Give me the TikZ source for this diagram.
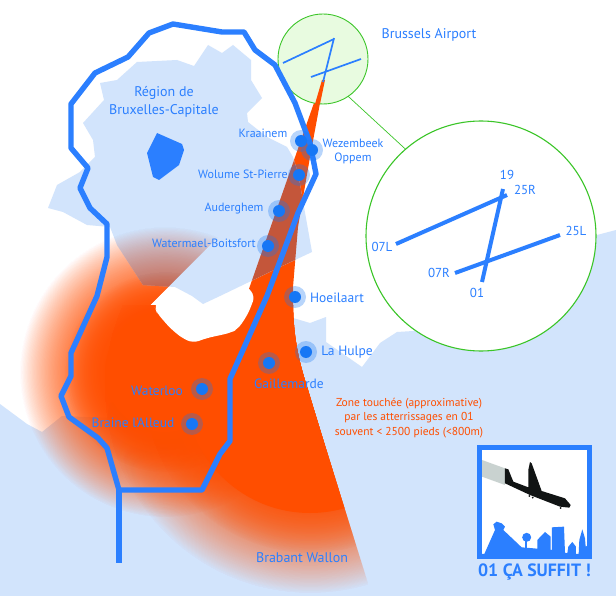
\documentclass[tikz,border=0pt]{standalone}
\usepackage{fontspec}
\setmainfont{PT Sans}
\usetikzlibrary{positioning, fadings}
\definecolor{linkblue}{HTML}{2B7FFF}
\definecolor{dotblue}{HTML}{1677F5}
\definecolor{landblue}{HTML}{D2E4FC}
\definecolor{zoneorange}{HTML}{FF4E00}
\definecolor{zonebrown}{HTML}{C4563A}
\definecolor{ringgreen}{HTML}{3BC528}
\definecolor{ringfill}{HTML}{E8FBE0}
\definecolor{trailgrey}{HTML}{C9D2D0}
\definecolor{planeblack}{HTML}{111414}
\tikzstyle{border} = [draw=linkblue, line width=5.4pt, line join=round]
\tikzstyle{runwaysmall} = [draw=linkblue, line width=1.7pt]
\tikzstyle{runwaybig} = [draw=linkblue, line width=4pt]
\tikzstyle{ring} = [circle, draw=ringgreen, inner sep=0pt, outer sep=0pt]
\tikzstyle{towndot} = [circle, fill=dotblue, inner sep=0pt, minimum size=12pt]
\tikzstyle{townhalo} = [circle, fill=dotblue, fill opacity=0.3, inner sep=0pt, minimum size=22pt]
\tikzstyle{townlabel} = [text=linkblue, inner sep=0pt, font=\fontsize{12}{14}\selectfont]
\tikzstyle{runwaylabel} = [text=linkblue, inner sep=0pt, font=\fontsize{13}{15}\selectfont]
\tikzstyle{biglabel} = [text=linkblue, inner sep=0pt, align=center, font=\fontsize{13.5}{18}\selectfont]
\newcommand{\regionpath}{(100,83) -- (117,80) -- (137,62) -- (177,60) -- (194,66) -- (208,45) -- (222,53) -- (233,45) -- (251,60) -- (251,80) -- (262,98) -- (247,113) -- (248,122) -- (267,137) -- (287,147) -- (293,157) -- (298,173) -- (312,252) -- (280,267) -- (247,283) -- (220,296) -- (203,304) -- (192,296) -- (175,287) -- (143,285) -- (117,245) -- (110,227) -- (87,225) -- (63,212) -- (48,208) -- (57,185) -- (80,172) -- (95,157) -- (93,140) -- (83,123) -- (104,100) -- cycle}
% soft disc: the fading laid over itself so it fills up towards the middle
\newcommand{\softdisc}[5]{%
  \foreach \i in {1,2,3} {
    \fill [#1, path fading=zonefade] (#2) circle (#3pt);
    \fill [#1, path fading=zonefade] (#2) circle (#4pt);
  }
  \fill [#1] (#2) circle (#5pt);}
\newcommand{\zonefill}[1]{%
  \begin{scope}
    \clip (0,0) -- (325,0) -- (325,80) -- (320,103) -- (310,157) -- (298,227) -- (293,287) -- (293,300) .. controls (293,340) and (300,365) .. (308,390) .. controls (320,430) and (345,510) .. (372,596) -- (0,596) -- cycle;
    \fill [#1] (322,80) -- (325,80) -- (293,306) -- (243,306) -- cycle;
    \begin{scope}
      \clip (0,200) -- (220,200) -- (220,235) -- (150,305) -- (340,305) -- (340,596) -- (0,596) -- cycle;
      \softdisc{#1}{165,372}{145}{100}{60}
    \end{scope}
    \begin{scope}
      \clip (0,305) rectangle (400,596);
      \softdisc{#1}{310,388}{205}{165}{125}
    \end{scope}
  \end{scope}}
\begin{document}
\begin{tikzpicture}[x=1pt, y=-1pt]
    \tikzfading[name=zonefade, inner color=transparent!0, outer color=transparent!100]
    \fill [white] (0,0) rectangle (616,596);
    % land
    \fill [landblue] (0,404) -- (27,424) -- (42,432) -- (62,416) -- (107,418) -- (110,403) -- (200,380) -- (293,318) -- (310,323) -- (326,317) -- (326,342) -- (362,367) -- (380,343) -- (397,332) -- (413,331) -- (500,300) -- (597,235) -- (616,230) -- (616,596) -- (0,596) -- cycle;
    \zonefill{zoneorange}
    \fill [white, rounded corners=6pt] (155,308) -- (157,298) -- (173,285) -- (240,278) -- (255,296) -- (248,314) -- (238,329) -- (230,333) -- (207,338) -- (193,343) -- (182,338) -- (170,328) -- (157,313) -- cycle;
    \fill [landblue] \regionpath;
    \begin{scope}
      \clip \regionpath;
      \zonefill{zonebrown}
    \end{scope}
    \fill [linkblue] (157,133) -- (182,144) -- (184,150) -- (179,165) -- (159,180) -- (153,177) -- (147,153) -- cycle;
    % airport
    \node (SmallRing) [ring, fill=ringfill, line width=0.9pt, minimum size=90pt] at (323,59) {};
    \node (BigRing) [ring, fill=white, line width=1.1pt, minimum size=230pt] at (481,236) {};
    \draw [ringgreen, line width=0.7pt] (SmallRing.-56) -- (BigRing.131);
    \fill [zoneorange] (322,80) -- (325,80) -- (320,104) -- (315,104) -- cycle;
    \draw [runwaysmall] (283,63) -- (334,39);
    \draw [runwaysmall] (311,77) -- (361,59);
    \draw [runwaysmall] (334,38) -- (323,82);
    \draw [runwaybig] (396,244) -- (507,195);
    \draw [runwaybig] (455,273) -- (560,235);
    \draw [runwaybig] (482,282) -- (503,189);
    \node (Label19) [runwaylabel] at (507,175) {19};
    \node (Label25R) [runwaylabel] at (525,190) {25R};
    \node (Label25L) [runwaylabel] at (576,231) {25L};
    \node (Label07L) [runwaylabel] at (382,247) {07L};
    \node (Label07R) [runwaylabel] at (439,273) {07R};
    \node (Label01) [runwaylabel] at (477,293) {01};
    % border
    \draw [border] (173,24) -- (222,32) -- (244,32) -- (255,50) -- (275,65) -- (295,103) -- (310,143) -- (316,174) -- (298,213) -- (267,296) -- (230,379) -- (230,441) -- (220,454) -- (202,490) -- (119,490) -- (107,448) -- (98,438) -- (87,430) -- (69,417) -- (61,396) -- (71,376) -- (71,353) -- (97,296) -- (107,257) -- (107,224) -- (90,208) -- (80,188) -- (88,168) -- (71,148) -- (71,104) -- (95,73) -- (128,57) -- (149,33) -- cycle;
    \draw [border] (119,490) -- (119,563);
    % towns
    \foreach \name/\x/\y in {Kraainem/301/141, Wezembeek/312/150, Wolume/299/175, Auderghem/279/211, Watermael/268/246, Hoeilaart/295/297, Hulpe/306/352, Gaillemarde/269/363, Waterloo/202/389, Braine/192/424} {
      \node (\name Halo) [townhalo] at (\x,\y) {};
      \node (\name) [towndot] at (\x,\y) {};
    }
    \node (KraainemLabel) [townlabel] at (263,133) {Kraainem};
    \node (WezembeekLabel) [townlabel, align=center, font=\fontsize{12}{14.5}\selectfont] at (353,151.5) {Wezembeek\\Oppem};
    \node (WolumeLabel) [townlabel] at (243,174) {Wolume St-Pierre};
    \node (AuderghemLabel) [townlabel] at (234,209) {Auderghem};
    \node (WatermaelLabel) [townlabel] at (204,243) {Watermael-Boitsfort};
    \node (HoeilaartLabel) [biglabel] at (337,298) {Hoeilaart};
    \node (HulpeLabel) [biglabel] at (347,352) {La Hulpe};
    \node (GaillemardeLabel) [biglabel] at (289,384) {Gaillemarde};
    \node (WaterlooLabel) [biglabel] at (157,391) {Waterloo};
    \node (BraineLabel) [biglabel] at (133,423) {Braine l'Alleud};
    \node (RegionLabel) [biglabel, font=\fontsize{14}{18}\selectfont] at (164,102) {Région de\\Bruxelles-Capitale};
    \node (AirportLabel) [biglabel, font=\fontsize{14}{18}\selectfont] at (429,35) {Brussels Airport};
    \node (BrabantLabel) [biglabel, font=\fontsize{14}{18}\selectfont] at (302,558) {Brabant Wallon};
    \node (ZoneLabel) [text=zoneorange, inner sep=0pt, align=center, font=\fontsize{11.5}{14.5}\selectfont] at (409,418) {Zone touchée (approximative)\\par les atterrissages en 01\\souvent < 2500 pieds (<800m)};
    % logo
    \node (LogoFrame) [rectangle, draw=linkblue, fill=white, line width=5pt, inner sep=0pt, minimum width=110pt, minimum height=109pt] at (534.5,502) {};
    \begin{scope}[shift={(440,430)}, x=0.3333pt, y=-0.3333pt]
      \fill [trailgrey] (126,90) -- (195,115) -- (195,165) -- (126,140) -- cycle;
      \fill [planeblack] (195,115) -- (205,118) -- (220,155) -- (265,172) -- (265,120) -- (270,96) -- (275,100) -- (305,183) -- (375,205) -- (392,225) -- (388,233) -- (360,230) -- (270,195) -- (195,160) -- cycle;
      \fill [planeblack] (268,198) circle (1pt) (278,203) circle (1pt) (362,234) circle (1pt);
      \fill [linkblue] (126,372) -- (133,372) -- (165,300) -- (160,283) -- (170,275) -- (185,280) -- (195,290) -- (190,300) -- (245,352) -- (292,356) -- (292,330) -- (315,306) -- (332,320) -- (332,360) -- (336,360) -- (336,292) -- (372,290) -- (375,368) -- (382,370) -- (385,350) -- (397,336) -- (408,350) -- (408,372) -- (416,372) -- (418,330) -- (427,298) -- (435,325) -- (437,350) -- (441,348) -- (441,372) -- cycle;
      \fill [linkblue] (260,322) circle (4.5pt);
      \fill [linkblue] (255,330) rectangle (262,355);
    \end{scope}
    \node (LogoLabel) [text=linkblue, inner sep=0pt, font=\fontsize{17.8}{20}\bfseries\selectfont, below=5pt of LogoFrame] {01 ÇA SUFFIT !};
    \pgfresetboundingbox
    \useasboundingbox (0,0) rectangle (616,596);
\end{tikzpicture}
\end{document}
